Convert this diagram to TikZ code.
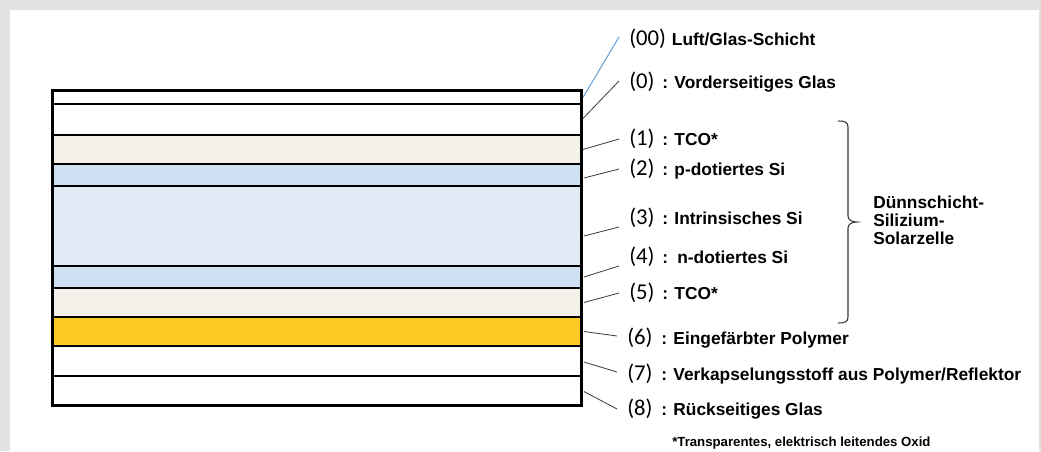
\documentclass[tikz,border=0pt]{standalone}
\usepackage{fontspec}
\setmainfont{Liberation Sans}
\newfontfamily\numfont{Carlito}
\usetikzlibrary{calc}

\definecolor{pagegray}{HTML}{E1E2E4}
\definecolor{tcocol}{HTML}{F3F1EA}
\definecolor{dopedcol}{HTML}{CFE0F2}
\definecolor{intrcol}{HTML}{E2ECF6}
\definecolor{polycol}{HTML}{FFC926}
\definecolor{leadcol}{HTML}{3A3A3A}
\definecolor{airlead}{HTML}{5B9BD5}

% one layer of the stack: name, top, bottom (px), fill colour
\newcommand\stacklayer[4]{%
  \node[layerbox, fill=#4, minimum height={(#3-#2)*0.75pt}] (#1) at (317,{(#2+#3)/2}) {};}
% fixed-width slot for the layer number
\newcommand\numslot[2]{\makebox[#1][l]{\numfont\mdseries\fontsize{17}{17}\selectfont #2}}

\begin{document}
\begin{tikzpicture}[x=0.75pt,y=-0.75pt,
  layerbox/.style={draw=black, line width=1.4pt, rectangle, inner sep=0pt,
    minimum width=396pt},
  lbl/.style={anchor=west, inner sep=0pt,
    font=\bfseries\fontsize{13}{15}\selectfont},
  leader/.style={draw=leadcol, line width=0.6pt},
  airleader/.style={draw=airlead, line width=0.7pt},
  bracepath/.style={draw=leadcol, line width=0.8pt},
  note/.style={anchor=west, inner sep=0pt, align=left,
    font=\bfseries\fontsize{13}{13.5}\selectfont},
  foot/.style={anchor=west, inner sep=0pt,
    font=\bfseries\fontsize{9.9}{11}\selectfont}]

% page frame
\fill[pagegray] (0,0) rectangle (1041,451);
\fill[white] (10,10) rectangle (1039,451);
\useasboundingbox (0,0) rectangle (1041,451);

% the layer stack
\stacklayer{L00}{91}{104}{white}
\stacklayer{L0}{104}{135}{white}
\stacklayer{L1}{135}{164}{tcocol}
\stacklayer{L2}{164}{186}{dopedcol}
\stacklayer{L3}{186}{266}{intrcol}
\stacklayer{L4}{266}{288}{dopedcol}
\stacklayer{L5}{288}{317}{tcocol}
\stacklayer{L6}{317}{346}{polycol}
\stacklayer{L7}{346}{376}{white}
\stacklayer{L8}{376}{405}{white}
\draw[line width=1.8pt] (L00.north west) rectangle (L8.south east);

% labels
\node[lbl] (n00) at (629,39) {\numslot{32pt}{(00)}Luft/Glas-Schicht};
\node[lbl] (n0) at (629,82) {\numslot{24.75pt}{(0)}: Vorderseitiges Glas};
\node[lbl] (n1) at (629,139) {\numslot{24.75pt}{(1)}: TCO*};
\node[lbl] (n2) at (629,169) {\numslot{24.75pt}{(2)}: p-dotiertes Si};
\node[lbl] (n3) at (629,218) {\numslot{24.75pt}{(3)}: Intrinsisches Si};
\node[lbl] (n4) at (629,257) {\numslot{24.75pt}{(4)}: \,n-dotiertes Si};
\node[lbl] (n5) at (629,293) {\numslot{24.75pt}{(5)}: TCO*};
\node[lbl] (n6) at (627,338) {\numslot{25.5pt}{(6)}: Eingefärbter Polymer};
\node[lbl] (n7) at (627,374) {\numslot{25.5pt}{(7)}: Verkapselungsstoff aus Polymer/Reflektor};
\node[lbl] (n8) at (627,409) {\numslot{25.5pt}{(8)}: Rückseitiges Glas};

% leader lines
\draw[airleader] ($(L00.east)+(1,0)$) -- ($(n00.west)+(-10,-2)$);
\draw[leader] ($(L0.east)+(1,-1)$) -- ($(n0.west)+(-10,-1)$);
\draw[leader] ($(L1.east)+(1,0)$) -- ($(n1.west)+(-10,0)$);
\draw[leader] ($(L2.east)+(2,3)$) -- ($(n2.west)+(-10,0)$);
\draw[leader] ($(L3.east)+(2,10)$) -- ($(n3.west)+(-10,9)$);
\draw[leader] ($(L4.east)+(2,0)$) -- ($(n4.west)+(-10,9)$);
\draw[leader] ($(L5.east)+(2,0)$) -- ($(n5.west)+(-10,0)$);
\draw[leader] ($(L6.east)+(2,0)$) -- ($(n6.west)+(-10,-2)$);
\draw[leader] ($(L7.east)+(2,1)$) -- ($(n7.west)+(-10,-2)$);
\draw[leader] ($(L8.east)+(2,1)$) -- ($(n8.west)+(-10,0)$);

% brace around the solar cell layers
\draw[bracepath] (838,121) .. controls (845,121) and (848,122) .. (848,127)
  -- (848,216) .. controls (848,220) and (852,222) .. (857,222)
  .. controls (852,222) and (848,224) .. (848,228)
  -- (848,317) .. controls (848,322) and (845,323) .. (838,323);
\node[note] (cell) at (873,220) {Dünnschicht-\\Silizium-\\Solarzelle};

% footnote
\node[foot] (fn) at (672,443) {*Transparentes, elektrisch leitendes Oxid};
\end{tikzpicture}
\end{document}
